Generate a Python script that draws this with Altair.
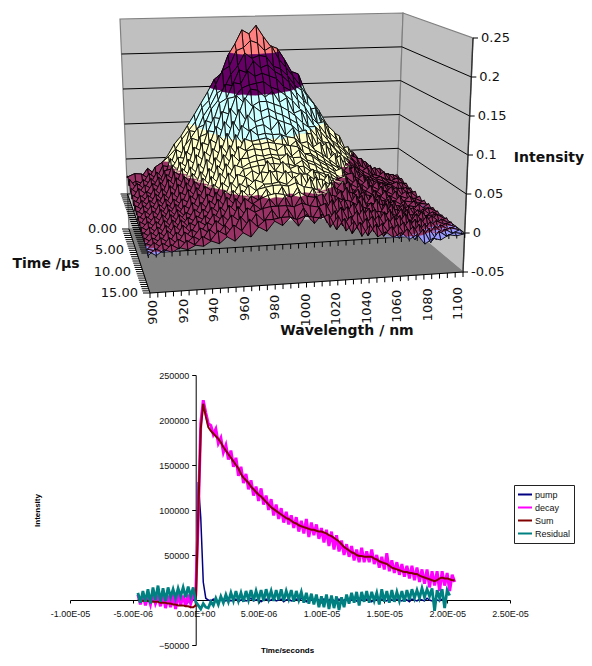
import altair as alt
import pandas as pd

# ---------- surface data (intensity x 1000) ----------
wavelengths = [900,905,910,915,920,925,930,935,940,945,950,955,960,965,970,975,980,985,990,995,1000,
               1005,1010,1015,1020,1025,1030,1035,1040,1045,1050,1055,1060,1065,1070,1075,1080,1085,1090,1095,1100]
times = [0,0.5,1,1.5,2,2.5,3,3.5,4,4.5,5,5.5,6,6.5,7,7.5,8,8.5,9,9.5,10,10.5,11,11.5,12,12.5,13,13.5,14,14.5,15]
surface = [
[24,20,22,29,19,34,28,40,33,48,58,61,74,82,92,101,108,124,118,122,120,109,112,98,96,84,80,66,62,52,47,36,34,25,27,16,20,12,15,9,11],
[28,22,25,38,30,44,55,71,82,97,112,128,144,162,170,196,212,232,226,238,222,208,204,188,170,166,140,126,112,94,80,74,52,50,38,34,22,24,15,14,8],
[30,34,33,26,42,48,56,66,80,92,104,124,134,156,176,182,204,208,218,214,203,209,190,178,165,152,136,124,104,92,82,58,60,42,42,24,28,16,18,8,10],
[20,26,22,36,28,46,44,68,62,94,92,114,128,146,152,172,184,202,194,198,196,182,178,168,154,146,118,120,94,84,74,62,50,46,28,34,16,24,10,14,6],
[32,18,30,24,40,30,58,48,74,86,100,104,126,138,160,158,180,176,192,182,186,176,170,160,146,134,124,100,102,76,68,58,48,38,32,24,20,16,12,8,8],
[16,28,20,34,24,44,46,62,60,88,84,112,108,136,142,164,162,180,172,176,172,168,156,150,136,126,110,100,86,74,64,54,46,30,36,20,22,14,10,12,4],
[24,16,28,22,38,28,54,44,72,64,92,96,118,116,144,146,158,162,164,166,158,154,146,138,126,118,102,92,80,68,58,50,40,34,28,22,18,12,16,4,6],
[12,26,18,32,26,44,36,60,52,80,74,102,100,128,124,150,140,158,156,146,154,138,144,122,126,102,102,80,78,66,58,46,40,30,26,20,16,14,6,10,2],
[20,14,24,18,36,24,50,42,66,58,88,84,110,102,134,122,148,136,142,142,138,134,128,120,110,102,90,78,70,58,52,42,36,28,24,18,16,10,12,4,6],
[8,22,14,30,20,42,32,56,46,74,66,94,88,118,106,134,118,138,130,134,128,124,118,112,98,96,76,82,58,64,40,48,26,32,14,24,8,16,2,8,0],
[18,12,24,16,32,22,46,38,60,50,80,72,102,90,120,104,128,118,122,126,120,116,112,102,104,80,86,60,70,42,52,30,38,18,28,8,20,4,12,0,4],
[6,20,12,28,18,38,28,50,40,66,56,86,78,106,90,116,108,114,116,108,120,100,110,88,90,78,72,64,56,48,40,36,28,24,18,16,10,8,4,4,-1],
[16,10,22,14,30,20,42,34,56,44,74,64,92,78,106,92,112,104,106,104,104,100,98,88,82,76,68,60,54,44,46,26,36,12,26,6,18,2,10,-2,3],
[6,18,10,26,16,34,24,46,36,60,48,78,68,94,80,102,98,100,102,96,106,88,96,78,78,70,64,58,48,42,34,32,24,22,14,14,8,6,4,2,0],
[14,8,20,12,28,18,36,30,50,40,66,56,84,72,94,88,96,96,98,96,94,92,90,80,76,68,62,54,58,32,42,22,32,12,24,4,16,0,8,-3,3],
[4,16,8,24,14,30,22,42,32,56,46,72,62,86,76,90,92,90,92,88,96,80,88,74,70,64,58,52,44,38,32,28,22,20,12,12,6,4,2,0,-1],
[12,6,18,10,26,16,32,26,46,36,60,50,76,64,82,82,86,84,86,84,84,80,80,72,68,60,56,48,52,28,38,18,30,10,22,2,14,-2,8,0,2],
[2,14,6,22,12,28,18,38,30,50,42,66,56,76,72,78,80,82,84,80,88,72,78,66,62,58,52,48,40,34,28,26,18,18,10,10,2,6,-3,5,0],
[10,4,16,8,24,14,28,22,42,32,54,46,68,58,72,74,76,76,78,76,76,72,72,64,62,54,50,42,48,24,34,16,28,8,20,0,12,-3,6,-2,2],
[2,12,4,20,10,26,16,34,26,44,38,58,50,68,64,72,66,84,70,82,72,76,62,70,48,62,40,52,28,40,18,32,10,24,4,16,-4,8,-2,4,-2],
[8,2,14,6,22,12,24,18,36,26,48,38,60,50,66,58,72,70,72,68,70,66,66,58,58,50,44,38,38,30,22,22,20,12,12,4,4,2,2,2,1],
[0,10,2,18,8,24,14,30,22,40,32,52,44,60,54,64,60,76,60,74,62,70,52,64,42,56,34,48,24,36,14,30,8,22,0,14,-5,10,-4,5,-1],
[6,0,12,4,20,10,22,16,32,24,44,32,54,44,60,52,60,60,62,58,68,48,66,42,58,34,46,24,40,16,28,10,26,2,18,-4,10,-5,6,-2,2],
[-2,8,1,16,6,22,12,26,20,36,28,48,38,56,46,56,58,60,60,58,62,56,54,50,44,42,36,34,28,24,18,18,14,12,6,4,-6,8,-4,3,-2],
[4,-2,10,2,18,8,20,14,28,20,38,28,48,36,50,44,58,44,60,42,58,40,56,36,52,28,40,20,36,12,24,8,22,0,16,-6,8,-6,4,-1,1],
[-3,6,0,14,4,20,10,24,18,32,24,42,32,50,42,48,52,54,52,48,54,48,46,50,30,44,22,36,14,28,6,22,2,16,-4,10,-8,6,-4,2,-2],
[2,-2,8,1,14,6,16,10,24,18,32,22,42,30,44,36,50,38,52,34,50,34,50,28,44,22,34,14,30,8,20,4,18,-2,12,-8,6,-9,3,-3,0],
[-4,5,-2,10,2,16,8,20,14,28,20,34,26,42,36,40,42,42,42,40,44,40,38,42,22,36,16,30,10,22,4,18,0,12,-6,8,-10,4,-4,1,-2],
[0,-3,6,0,10,4,12,6,20,12,24,14,34,22,36,26,40,26,40,24,40,24,40,20,34,14,26,8,22,4,14,0,12,-3,8,-9,4,-11,2,-4,0],
[-6,2,-3,6,0,10,4,14,8,20,14,26,18,32,22,30,30,32,32,28,32,30,28,32,12,26,6,20,2,16,0,12,-4,8,-7,6,-12,2,-5,-1,-3],
[2,-4,3,-1,4,1,6,4,10,6,14,8,18,12,24,18,30,24,34,22,36,24,36,18,32,12,24,4,18,2,8,0,6,-4,2,-11,-4,-7,-1,-3,-1],
]
bands = [(-50,0,"#9999FF"),(0,50,"#993366"),(50,100,"#FFFFCC"),(100,150,"#CCFFFF"),(150,200,"#660066"),(200,250,"#FF8080")]
z_ticks = [-50,0,50,100,150,200,250]
z_labels = ["-0.05","0","0.05","0.1","0.15","0.2","0.25"]
wave_labels = [900,920,940,960,980,1000,1020,1040,1060,1080,1100]
time_labels = [(0,"0.00"),(5,"5.00"),(10,"10.00"),(15,"15.00")]

# ---------- decay trace data (time in microseconds, counts x 1000) ----------
t_us = [-4.6,-4.4,-4.2,-4.0,-3.8,-3.6,-3.4,-3.2,-3.0,-2.8,-2.6,-2.4,-2.2,-2.0,-1.8,-1.6,-1.4,-1.2,-1.0,-0.8,-0.6,-0.4,-0.2,
 0.0,0.2,0.4,0.6,0.8,1.0,1.2,1.4,1.6,1.8,2.0,2.2,2.4,2.6,2.8,3.0,3.2,3.4,3.6,3.8,4.0,4.2,4.4,4.6,4.8,5.0,5.2,5.4,5.6,5.8,6.0,
 6.2,6.4,6.6,6.8,7.0,7.2,7.4,7.6,7.8,8.0,8.2,8.4,8.6,8.8,9.0,9.2,9.4,9.6,9.8,10.0,10.2,10.4,10.6,10.8,11.0,11.2,11.4,11.6,11.8,12.0,
 12.2,12.4,12.6,12.8,13.0,13.2,13.4,13.6,13.8,14.0,14.2,14.4,14.6,14.8,15.0,15.2,15.4,15.6,15.8,16.0,16.2,16.4,16.6,16.8,17.0,17.2,17.4,17.6,17.8,18.0,
 18.2,18.4,18.6,18.8,19.0,19.2,19.4,19.6,19.8,20.0,20.2,20.4,20.6]
decay = [6,-5,7,-6,4,-5,8,-4,3,-7,6,-9,5,-8,6,-10,7,-6,5,-7,6,-4,5,
 6,92,196,222,208,196,194,184,190,174,180,164,172,156,166,148,158,138,148,130,140,123,133,116,126,110,124,106,116,100,112,
 94,106,90,102,86,98,84,94,80,92,76,88,74,90,70,86,72,84,68,80,64,78,60,76,56,72,54,66,50,62,
 48,60,44,56,42,58,42,54,42,56,40,50,36,48,34,52,32,44,30,42,28,40,26,38,24,38,22,36,20,34,
 18,34,14,32,16,32,10,32,16,30,10,28,20]
pump = [0,1,0,-1,0,1,0,-1,0,0,1,-1,0,1,0,-1,0,1,0,-1,0,1,0,
 3,131,92,20,2,0,-1,1,0,-2,1,0,-1,1,-1,0,1,-2,0,1,-1,0,2,-1,0,1,-2,0,1,-1,0,
 2,-1,0,1,-2,0,1,-1,0,1,-1,2,0,-2,1,0,-1,1,0,-2,1,-1,0,2,-1,0,1,-2,0,1,
 -1,0,1,-1,2,0,-1,1,0,-2,1,0,-1,1,0,-1,2,0,-1,1,0,-1,1,0,-2,1,
 0,-1,1,0,-1,2,0,-1,1,0,-1,1,0]
sum_fit = [0,0,-1,0,-1,-1,-2,-2,-2,-3,-3,-3,-4,-4,-5,-5,-6,-6,-6,-7,-7,-8,-8,
 -6,95,190,218,204,192,188,185,182,179,175,170,166,162,158,154,150,146,140,136,133,130,126,123,120,117,115,112,109,106,103,
 101,99,97,95,93,91,90,88,86,85,83,82,81,80,79,78,78,77,76,76,75,74,72,71,69,67,65,62,59,57,
 55,53,52,50,49,49,48,48,48,48,46,45,43,42,41,40,38,36,35,34,33,32,31,31,30,30,29,29,27,26,
 25,24,23,22,21,22,24,25,24,24,23,22,22]
residual = [8,-3,10,-2,12,-4,14,0,16,-2,13,-1,14,3,12,2,13,4,14,3,15,4,14,
 -2,-6,-10,-4,-8,-9,-2,-6,2,-5,4,-3,6,-2,8,-1,10,-1,8,-2,10,0,11,-1,10,0,11,-1,12,1,10,
 -1,11,0,12,-1,10,1,11,-2,10,0,9,-3,8,-4,7,-5,6,-8,4,-8,6,-10,5,-9,4,-11,3,-8,6,
 -4,8,-3,9,-6,9,-2,10,-3,9,-1,8,-5,12,-2,10,-3,11,-2,9,-1,10,-2,11,0,12,2,11,
 2,13,3,12,4,13,-12,11,2,12,-9,11,5]
x_ticks_us = [-10,-5,0,5,10,15,20,25]
x_tick_labels = ["-1.00E-05","-5.00E-06","0.00E+00","5.00E-06","1.00E-05","1.50E-05","2.00E-05","2.50E-05"]
y_ticks = [-50000,0,50000,100000,150000,200000,250000]
series_names = ["pump","decay","Sum","Residual"]
series_colors = ["#000080","#FF00FF","#800000","#008080"]
series_values = [pump,decay,sum_fit,residual]
series_widths = [1.5,3.0,2.0,2.8]

# ---------- projection of the box (8 corners; image pixels) ----------
C = {(0,0,0):(129,229),(1,0,0):(396,216),(0,1,0):(150,293),(1,1,0):(463,272),
     (0,0,1):(120,19),(1,0,1):(403,13),(0,1,1):(140,53),(1,1,1):(473,38)}

def proj(w,t,z):
    u,v,k = (w-900)/200, t/15, (z+50)/300
    x=y=0.0
    for (a,b,c),(px,py) in C.items():
        f=(u if a else 1-u)*(v if b else 1-v)*(k if c else 1-k)
        x+=f*px; y+=f*py
    return [round(x,2),round(y,2)]

def clip(poly,lo,hi):
    def half(pts,keep,level):
        out=[]
        for i,p in enumerate(pts):
            q=pts[(i+1)%len(pts)]
            if keep(p[2]): out.append(p)
            if keep(p[2])!=keep(q[2]):
                f=(level-p[2])/(q[2]-p[2])
                out.append((p[0]+f*(q[0]-p[0]),p[1]+f*(q[1]-p[1]),level))
        return out
    pts=half(poly,lambda z:z>=lo,lo)
    if pts: pts=half(pts,lambda z:z<=hi,hi)
    return pts

def feat(pts,fill,stroke,sw,closed=True):
    if closed:
        g={"type":"Polygon","coordinates":[pts+[pts[0]]]}
    else:
        g={"type":"LineString","coordinates":pts}
    return {"type":"Feature","geometry":g,"properties":{},"fill":fill,"stroke":stroke,"sw":sw}

back=[]
WALL="#C0C0C0"; EDGE="#808080"
back.append(feat([proj(900,0,-50),proj(1100,0,-50),proj(1100,0,250),proj(900,0,250)],WALL,EDGE,1.2))
back.append(feat([proj(1100,0,-50),proj(1100,15,-50),proj(1100,15,250),proj(1100,0,250)],WALL,EDGE,1.2))
back.append(feat([proj(900,0,-50),proj(1100,0,-50),proj(1100,15,-50),proj(900,15,-50)],"#808080","#808080",0.5))
for z in z_ticks[1:-1]:
    back.append(feat([proj(900,0,z),proj(1100,0,z),proj(1100,15,z)],"transparent","#000000",1,False))
# axis lines and ticks
back.append(feat([proj(900,15,-50),proj(1100,15,-50)],"transparent","#000000",1,False))
back.append(feat([proj(900,15,0),proj(1100,15,0)],"transparent","#000000",1,False))
back.append(feat([proj(900,0,0),proj(900,15,0)],"transparent","#000000",1,False))
back.append(feat([proj(900,0,-50),proj(900,15,-50)],"transparent","#000000",1,False))
back.append(feat([proj(1100,15,-50),proj(1100,15,250)],"transparent","#333333",1.4,False))
for w in wavelengths:
    for z in (-50,0):
        a=proj(w,15,z)
        back.append(feat([a,[a[0],a[1]+5]],"transparent","#000000",1,False))
for t in times:
    for z in (-50,0):
        a=proj(900,t,z)
        back.append(feat([a,[a[0]-7,a[1]]],"transparent","#000000",1,False))
for z in z_ticks:
    a=proj(1100,15,z)
    back.append(feat([a,[a[0]+5,a[1]]],"transparent","#000000",1,False))

mesh=[]
for i in range(len(times)-1):
    for j in range(len(wavelengths)-2,-1,-1):
        cell=[(wavelengths[j],times[i],surface[i][j]),(wavelengths[j+1],times[i],surface[i][j+1]),
              (wavelengths[j+1],times[i+1],surface[i+1][j+1]),(wavelengths[j],times[i+1],surface[i+1][j])]
        for lo,hi,col in bands:
            pts=clip(cell,lo,hi)
            if len(pts)>=3:
                mesh.append(feat([proj(*p) for p in pts],col,col,0.3))
        mesh.append(feat([proj(*p) for p in cell],"transparent","#000000",0.9))

labels=[]
for z,l in zip(z_ticks,z_labels):
    a=proj(1100,15,z)
    labels.append({"x":a[0]+8,"y":a[1],"label":l})
labels_df=pd.DataFrame(labels)
tl=[]
for t,l in time_labels:
    a=proj(900,t,-50)
    tl.append({"x":a[0]-12,"y":a[1],"label":l})
tl_df=pd.DataFrame(tl)
wl=[]
for w in wave_labels:
    a=proj(w,15,-50)
    u=(w-900)/200
    wl.append({"x":a[0]+3-8*u,"y":a[1]+7+8*u,"label":str(w)})
wl_df=pd.DataFrame(wl)
titles_df=pd.DataFrame([{"x":347,"y":331,"label":"Wavelength / nm"},{"x":549,"y":158,"label":"Intensity"},{"x":46,"y":264,"label":"Time /µs"}])

P=dict(type="identity",scale=1,translate=[-70,-375])
def shapes(fs):
    return alt.Chart(alt.Data(values=fs)).mark_geoshape(clip=False).encode(
        fill=alt.Fill("fill:N",scale=None),stroke=alt.Stroke("stroke:N",scale=None),
        strokeWidth=alt.StrokeWidth("sw:Q",scale=None)).project(**P)
def texts(df,**kw):
    return alt.Chart(df).mark_text(font="DejaVu Sans",color="#111111",clip=False,**kw).encode(
        longitude="x:Q",latitude="y:Q",text="label:N").project(**P)

top=[shapes(back),shapes(mesh),
     texts(labels_df,fontSize=13,align="left",baseline="middle"),
     texts(tl_df,fontSize=13,align="right",baseline="middle"),
     texts(wl_df,fontSize=13,align="right",baseline="middle",angle=270),
     texts(titles_df,fontSize=14,fontWeight="bold",align="center",baseline="middle")]

# ---------- bottom chart ----------
label_arr="["+",".join("'%s'"%s for s in x_tick_labels)+"]"
x_enc=alt.X("t:Q",scale=alt.Scale(domain=[-1e-5,2.5e-5],nice=False,zero=False),
    axis=alt.Axis(title="Time/seconds",values=[v*1e-6 for v in x_ticks_us],labelExpr=label_arr+"[round(datum.value/5e-6)+2]",
        offset=-45,grid=False,tickSize=3,labelPadding=6,labelFont="Liberation Sans",labelFontSize=9,labelColor="#111111",
        titleFont="Liberation Sans",titleFontSize=8,titleFontWeight="bold",titleX=217,titleY=46,
        domainColor="#000000",tickColor="#000000",labelOverlap=False,labelFlush=False))
y_enc=alt.Y("v:Q",scale=alt.Scale(domain=[-50000,250000],nice=False,zero=False),
    axis=alt.Axis(title="Intensity",values=y_ticks,format="d",offset=-125.7,grid=False,tickSize=4,labelPadding=3,
        labelFont="Liberation Sans",labelFontSize=9,labelColor="#111111",titleFont="Liberation Sans",titleFontSize=8,
        titleFontWeight="bold",titleX=-154,titleY=135,domainColor="#000000",tickColor="#000000",labelOverlap=False))
color=alt.Color("s:N",scale=alt.Scale(domain=series_names,range=series_colors),
    legend=alt.Legend(title=None,orient="none",legendX=444,legendY=110,strokeColor="#222222",fillColor="#FFFFFF",padding=3,
        symbolType="stroke",symbolSize=196,symbolStrokeWidth=2,labelFont="Liberation Sans",labelFontSize=9,labelOffset=2,
        rowPadding=0,clipHeight=13,labelColor="#111111",values=series_names))
lines=[]
for name,vals,sw in zip(series_names,series_values,series_widths):
    df=pd.DataFrame({"t":[a*1e-6 for a in t_us[:len(vals)]],"v":[b*1000 for b in vals[:len(t_us)]],"s":name})
    lines.append(alt.Chart(df).mark_line(strokeWidth=sw,strokeJoin="miter",interpolate="linear").encode(x=x_enc,y=y_enc,color=color))

chart=alt.layer(*top,*lines).properties(width=440,height=270,
    padding={"left":62,"top":367,"right":74,"bottom":13},
    autosize=alt.AutoSizeParams(type="none",contains="content"),background="white"
).configure_view(stroke=None)
chart.save("out.html",embed_options={"renderer":"svg","actions":False})
